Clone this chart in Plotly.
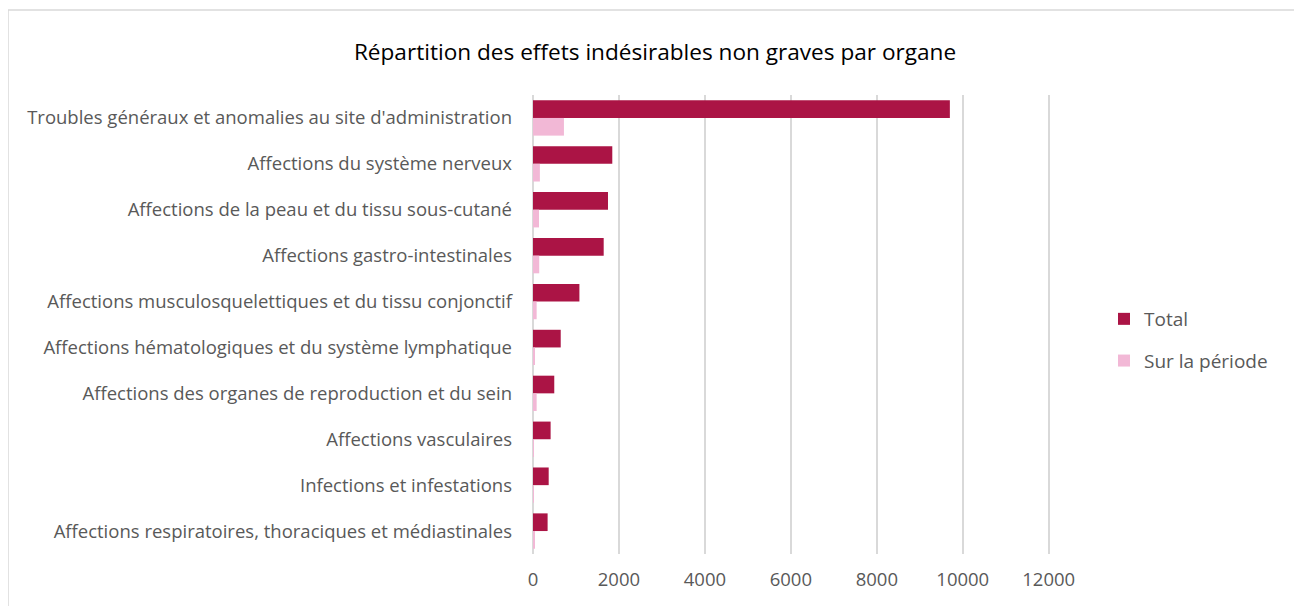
import plotly.graph_objects as go

categories = [
    "Troubles généraux et anomalies au site d'administration",
    "Affections du système nerveux",
    "Affections de la peau et du tissu sous-cutané",
    "Affections gastro-intestinales",
    "Affections musculosquelettiques et du tissu conjonctif",
    "Affections hématologiques et du système lymphatique",
    "Affections des organes de reproduction et du sein",
    "Affections vasculaires",
    "Infections et infestations",
    "Affections respiratoires, thoraciques et médiastinales",
]
total = [9700, 1845, 1745, 1645, 1080, 645, 495, 410, 365, 340]
periode = [720, 160, 140, 145, 85, 40, 85, 10, 20, 30]
tick_vals = [0, 2000, 4000, 6000, 8000, 10000, 12000]

grey = "#595959"
grid = "#d9d9d9"

fig = go.Figure()
fig.add_trace(go.Bar(y=categories, x=total, orientation="h", name="Total",
                     marker=dict(color="#ab1445", line=dict(width=0)),
                     legendgroup="a"))
fig.add_trace(go.Bar(y=categories, x=periode, orientation="h", name="Sur la période",
                     marker=dict(color="#f2b8d6", line=dict(width=0)),
                     legendgroup="b"))

# page body has an 8px margin, so the figure is drawn 8px in from the window corner
OFF = 8
FW, FH = 1302 - OFF, 606 - OFF
# plot area in window pixels (x range a bit past 12000 so its gridline shows)
XMAX = 12100
L, T, B = 533, 95, 554
R = round(L + 516 * XMAX / 12000)
W, H = R - L, B - T

fig.update_layout(
    width=FW, height=FH,
    margin=dict(l=L - OFF, r=FW - (R - OFF), t=T - OFF, b=FH - (B - OFF), pad=0),
    paper_bgcolor="white", plot_bgcolor="white",
    barmode="group", bargap=0.23, bargroupgap=0,
    font=dict(family="Open Sans", color=grey, size=17),
    title=dict(text="Répartition des effets indésirables non graves par organe",
               x=0.5, xanchor="center", y=1 - (52 - OFF) / FH, yanchor="middle",
               font=dict(size=22.6, color="#000000")),
    legend=dict(x=(1104 - L) / W, xanchor="left", y=(B - 340) / H, yanchor="middle",
                traceorder="grouped", tracegroupgap=14,
                font=dict(size=19, color=grey), itemwidth=30),
    xaxis=dict(range=[0, XMAX], tickvals=tick_vals, ticktext=[str(v) for v in tick_vals],
               showgrid=True, gridcolor=grid,
               gridwidth=1.5, zeroline=True, zerolinecolor=grid, zerolinewidth=1.5,
               tickfont=dict(size=18.5, color=grey), ticklabelstandoff=12, fixedrange=True),
    yaxis=dict(autorange="reversed", showgrid=False, tickfont=dict(size=18.5, color=grey),
               ticklabelstandoff=20),
    shapes=[dict(type="rect", xref="paper", yref="paper",
                 x0=(8 - L) / W, x1=(1301 - L) / W, y0=(B - 640) / H, y1=(B - 10) / H,
                 line=dict(color=grid, width=1.5), layer="below")],
)

fig.write_html("out.html")
